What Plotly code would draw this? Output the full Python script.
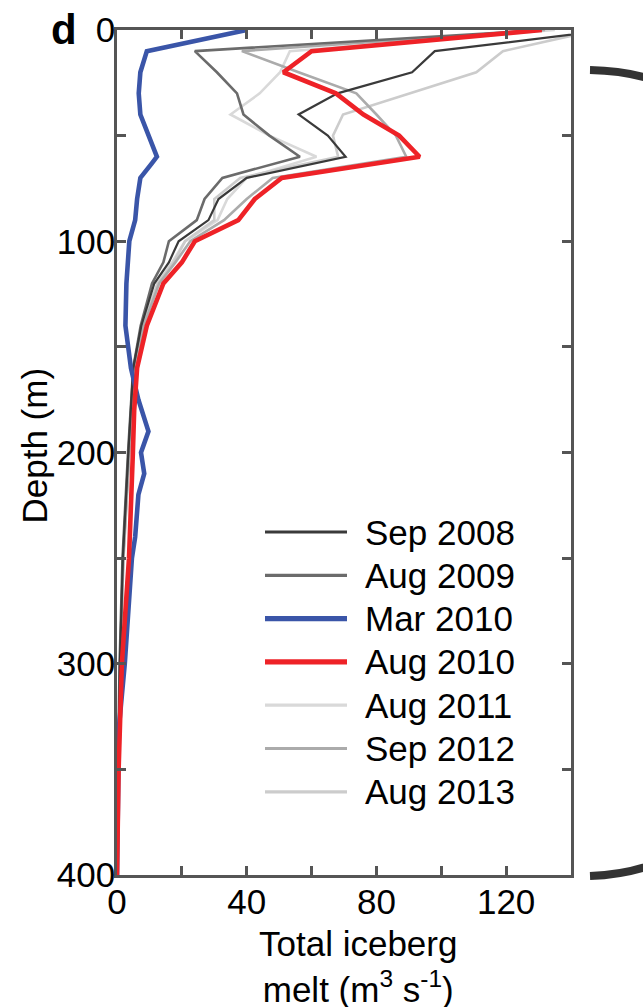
import plotly.graph_objects as go

# ---------------- data ----------------
depth_std = [0, 10, 20, 30, 40, 50, 60, 70, 80, 90, 100, 110, 120, 140, 160, 180, 200, 250, 300, 350, 400]

sep2008 = [152, 98, 91, 68, 56, 65, 70.5, 40, 31.3, 28.2, 19, 16, 11.5, 7.5, 5, 4.2, 3.5, 1.8, 0.9, 0.4, 0]
aug2009 = [131, 24, 30.8, 37, 39, 47, 56.4, 32.5, 27, 24.6, 16, 14.3, 10.8, 7.3, 5, 4.1, 3.4, 1.7, 0.8, 0.3, 0]
aug2010 = [131, 60, 51.3, 67.5, 76, 87, 93.3, 50.8, 42.5, 37.4, 24, 20, 14.3, 9.2, 6.2, 5.3, 4.9, 3.7, 1.5, 0.5, 0]
aug2011 = [135, 53.3, 50.3, 44, 35, 47, 61.5, 40, 34, 31, 21, 17, 12.5, 8, 5.3, 4.4, 3.7, 1.9, 0.9, 0.4, 0]
sep2012 = [132, 38.5, 56, 73.8, 80, 86, 89.2, 48, 40, 33, 22.6, 18, 13, 8.2, 5.4, 4.5, 3.8, 2, 1, 0.4, 0]
aug2013 = [148, 119, 110.8, 90, 69.7, 66.6, 68.2, 38, 30, 30, 21, 17.5, 12.5, 8, 5.2, 4.4, 3.7, 1.9, 0.9, 0.4, 0]

depth_mar2010 = [0, 10, 20, 30, 40, 46, 55, 60, 63, 70, 80, 90, 100, 120, 140, 160, 175, 190, 200, 210, 220, 240, 250, 300, 330, 400]
mar2010 = [40, 9.2, 7.2, 6.7, 7.2, 8.7, 10.8, 12.3, 10.8, 7.2, 6.2, 5.6, 3.8, 2.9, 2.6, 4.3, 6.6, 9.7, 7.4, 8.4, 6.6, 5.6, 4.6, 2.4, 0.6, 0]

series_names = ["Sep 2008", "Aug 2009", "Mar 2010", "Aug 2010", "Aug 2011", "Sep 2012", "Aug 2013"]

x_ticks = [0, 40, 80, 120]
y_ticks = [0, 100, 200, 300, 400]

# ---------------- styling ----------------
FONT = "Liberation Sans, Arial, Helvetica, sans-serif"
FS = 35
styles = {
    "Sep 2008": dict(color="#3a3a3a", width=2.2),
    "Aug 2009": dict(color="#6b6b6b", width=2.6),
    "Mar 2010": dict(color="#3a55a8", width=4.6),
    "Aug 2010": dict(color="#ee2227", width=4.6),
    "Aug 2011": dict(color="#d9d9d9", width=2.6),
    "Sep 2012": dict(color="#ababab", width=2.6),
    "Aug 2013": dict(color="#cccccc", width=2.6),
}
data_map = {
    "Sep 2008": (sep2008, depth_std),
    "Aug 2009": (aug2009, depth_std),
    "Mar 2010": (mar2010, depth_mar2010),
    "Aug 2010": (aug2010, depth_std),
    "Aug 2011": (aug2011, depth_std),
    "Sep 2012": (sep2012, depth_std),
    "Aug 2013": (aug2013, depth_std),
}
draw_order = ["Aug 2011", "Aug 2013", "Sep 2012", "Aug 2009", "Sep 2008", "Mar 2010", "Aug 2010"]

W, H = 643, 1007
L, R, T, B = 117, 72, 30, 132
PW, PH = W - L - R, H - T - B


def xp(px):
    return (px - L) / PW


def yp(py):
    return (H - B - py) / PH


fig = go.Figure()
for name in draw_order:
    vals, dep = data_map[name]
    fig.add_trace(go.Scatter(x=vals, y=dep, mode="lines", name=name,
                             line=dict(color=styles[name]["color"], width=styles[name]["width"]),
                             showlegend=False, hoverinfo="skip"))

axis_common = dict(
    showline=True, linecolor="#555555", linewidth=2.5, mirror="allticks",
    ticks="inside", ticklen=9, tickwidth=2.5, tickcolor="#555555",
    showgrid=False, zeroline=False, automargin=False,
    tickfont=dict(family=FONT, size=FS, color="black"),
)

fig.update_xaxes(range=[0, 140], tickmode="array", tickvals=x_ticks,
                 ticktext=[str(v) for v in x_ticks],
                 minor=dict(dtick=20, tick0=0, ticks="inside", ticklen=9, tickwidth=2.5, tickcolor="#555555"),
                 ticklabelstandoff=-6,
                 **axis_common)
fig.update_yaxes(range=[400, 0], tickmode="array", tickvals=y_ticks,
                 ticktext=[str(v) for v in y_ticks],
                 minor=dict(dtick=50, tick0=0, ticks="inside", ticklen=9, tickwidth=2.5, tickcolor="#555555"),
                 ticklabelstandoff=-8,
                 **axis_common)

annotations = []
shapes = []

# manual legend
leg_x0, leg_x1, leg_text_x = 265, 347, 363
leg_y0, leg_dy = 532, 43.3
for i, name in enumerate(series_names):
    y = leg_y0 + i * leg_dy
    shapes.append(dict(type="line", xref="paper", yref="paper",
                       x0=xp(leg_x0), x1=xp(leg_x1), y0=yp(y), y1=yp(y),
                       line=dict(color=styles[name]["color"], width=styles[name]["width"] + 0.6)))
    annotations.append(dict(text=name, xref="paper", yref="paper", x=xp(leg_text_x), y=yp(y),
                            xanchor="left", yanchor="middle", showarrow=False,
                            font=dict(family=FONT, size=FS, color="black")))

# axis titles
annotations.append(dict(text="Depth (m)", xref="paper", yref="paper", x=xp(33.5), y=yp(446),
                        textangle=-90, xanchor="center", yanchor="middle", showarrow=False,
                        font=dict(family=FONT, size=FS, color="black")))
annotations.append(dict(text="Total iceberg<br>melt (m<sup>3</sup> s<sup>-1</sup>)", xref="paper", yref="paper",
                        x=xp(358), y=yp(966), xanchor="center", yanchor="middle", showarrow=False,
                        font=dict(family=FONT, size=FS, color="black")))
# panel letter
annotations.append(dict(text="<b>d</b>", xref="paper", yref="paper", x=xp(64), y=yp(29),
                        xanchor="center", yanchor="middle", showarrow=False,
                        font=dict(family=FONT, size=42, color="black")))

# bracket arc on the right (part of a neighbouring panel's brace)
def P(px, py):
    return f"{xp(px):.5f},{yp(py):.5f}"

path = (f"M {P(590, 70)} Q {P(690, 72)} {P(720, 140)} L {P(720, 800)} "
        f"Q {P(690, 872)} {P(590, 876)}")
shapes.append(dict(type="path", xref="paper", yref="paper", path=path,
                   line=dict(color="#333333", width=8)))

fig.update_layout(
    width=W, height=H,
    margin=dict(l=L, r=R, t=T, b=B, pad=0),
    paper_bgcolor="white", plot_bgcolor="white",
    font=dict(family=FONT, color="black"),
    annotations=annotations, shapes=shapes,
    showlegend=False,
)

fig.write_html("out.html", config={"displayModeBar": False},
               post_script="document.body.style.margin='0';document.body.style.overflow='hidden';")
